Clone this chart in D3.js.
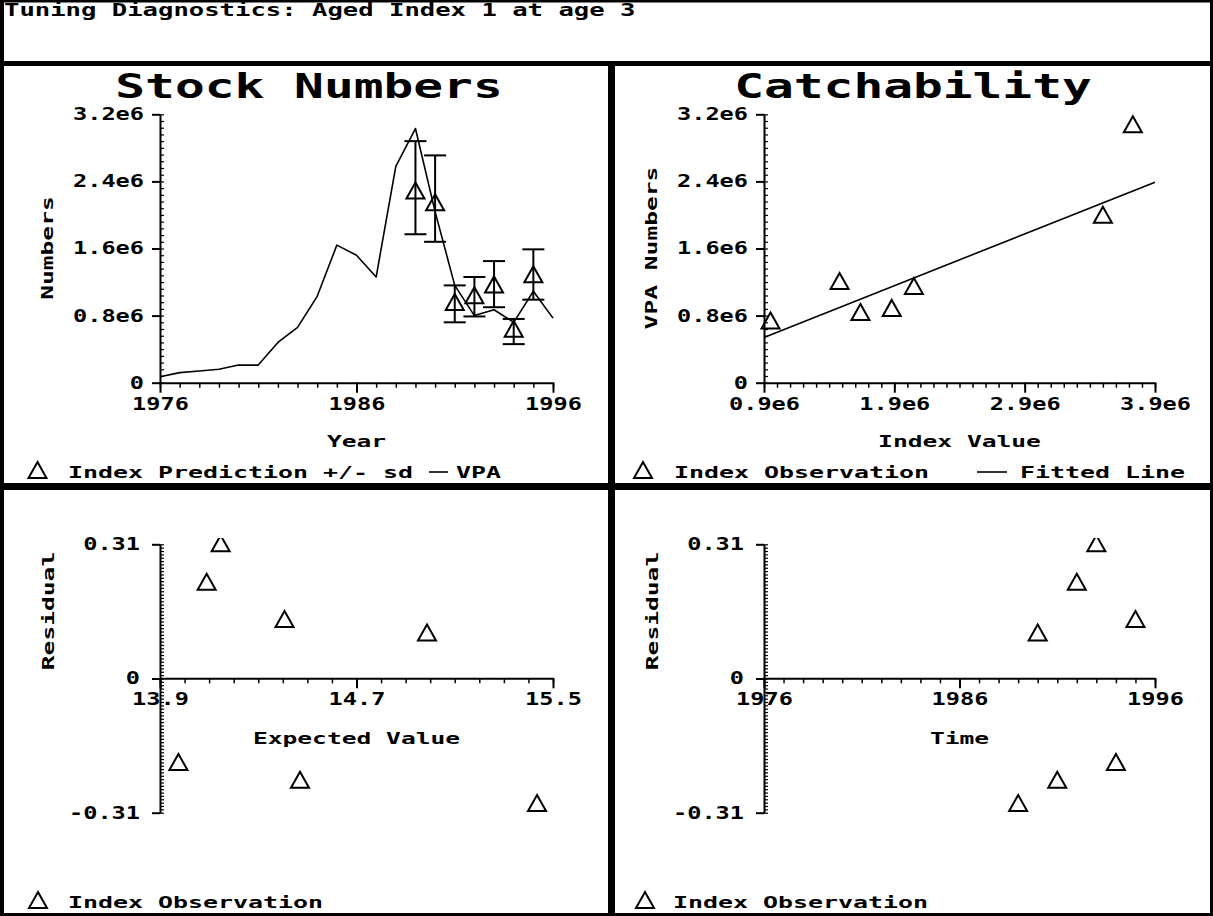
<!DOCTYPE html>
<html>
<head>
<meta charset="utf-8">
<script src="https://cdn.jsdelivr.net/npm/d3@7"></script>
<style>
  body { margin: 0; background: #fff; }
  svg text { font-family: "DejaVu Sans Mono", monospace; font-weight: bold; fill: #000; }
</style>
</head>
<body>
<div id="main"></div>
<script>
// values
const vpaYears = [1976, 1977, 1978, 1979, 1980, 1981, 1982, 1983, 1984, 1985, 1986,
                  1987, 1988, 1989, 1990, 1991, 1992, 1993, 1994, 1995, 1996];
const vpaNumbers = [0.07e6, 0.12e6, 0.14e6, 0.16e6, 0.21e6, 0.21e6, 0.48e6, 0.66e6, 1.03e6, 1.64e6, 1.52e6,
                    1.26e6, 2.58e6, 3.03e6, 2.04e6, 1.16e6, 0.80e6, 0.87e6, 0.72e6, 1.09e6, 0.77e6];

const indexYears = [1989, 1990, 1991, 1992, 1993, 1994, 1995];
const indexPrediction = [2.28e6, 2.14e6, 0.95e6, 1.03e6, 1.16e6, 0.63e6, 1.28e6];
const predictionLow = [1.77e6, 1.68e6, 0.72e6, 0.79e6, 0.90e6, 0.46e6, 0.99e6];
const predictionHigh = [2.88e6, 2.71e6, 1.16e6, 1.26e6, 1.45e6, 0.76e6, 1.59e6];

const indexValue = [0.95e6, 1.48e6, 1.64e6, 1.88e6, 2.05e6, 3.50e6, 3.73e6];
const vpaObserved = [0.73e6, 1.20e6, 0.83e6, 0.88e6, 1.14e6, 1.99e6, 3.07e6];
const fittedX = [0.9e6, 3.9e6];
const fittedY = [0.54e6, 2.39e6];

const residuals = [-0.29, 0.104, -0.236, 0.221, 0.31, -0.195, 0.135];
const expectedValue = [15.435, 14.987, 14.47, 14.09, 14.147, 13.975, 14.407];

const stockTicks = [0, 0.8e6, 1.6e6, 2.4e6, 3.2e6];
const yearTicks = [1976, 1986, 1996];
const indexTicks = [0.9e6, 1.9e6, 2.9e6, 3.9e6];
const residTicks = [-0.31, 0, 0.31];
const expectedTicks = [13.9, 14.7, 15.5];

const width = 1213;
const height = 916;

const svg = d3.select("#main")
    .append("svg")
    .attr("width", width)
    .attr("height", height);

// stretched monospace text, to get the wide plotter look
function txt(parent, str, x, y, size, adv, anchor) {
    return parent.append("text")
        .attr("x", x)
        .attr("y", y)
        .attr("text-anchor", anchor || "start")
        .style("font-size", size + "px")
        .attr("textLength", str.length * adv)
        .attr("lengthAdjust", "spacingAndGlyphs")
        .text(str);
}

function triangle(parent, x, y) {
    parent.append("path")
        .attr("d", `M${x},${y - 9}L${x + 9},${y + 7}L${x - 9},${y + 7}Z`)
        .attr("fill", "none")
        .attr("stroke", "black")
        .attr("stroke-width", 2)
        .attr("stroke-linejoin", "miter");
}

function styleLabels(sel, size, adv, fmt) {
    sel.selectAll("text")
        .style("font-size", size + "px")
        .attr("textLength", d => fmt(d).length * adv)
        .attr("lengthAdjust", "spacingAndGlyphs");
}

function yAxis(x0, y, ticks, fmt, minor, gap) {
    const g = svg.append("g").attr("transform", `translate(${x0},0)`);
    g.call(d3.axisLeft(y).tickValues(ticks).tickSize(8).tickSizeOuter(0)
        .tickPadding(gap - 8).tickFormat(fmt));
    g.select(".domain").attr("stroke-width", 2);
    g.selectAll(".tick line").attr("stroke-width", 2);
    styleLabels(g, 17, 14.2, fmt);
    const m = svg.append("g").attr("transform", `translate(${x0},0)`);
    m.call(d3.axisRight(y).tickValues(minor).tickSize(4).tickSizeOuter(0).tickFormat(""));
    m.select(".domain").remove();
    m.selectAll(".tick line").attr("stroke-width", 1.2);
}

function xAxis(y0, x, ticks, fmt, minor) {
    const g = svg.append("g").attr("transform", `translate(0,${y0})`);
    g.call(d3.axisBottom(x).tickValues(ticks).tickSize(10).tickSizeOuter(0)
        .tickPadding(5).tickFormat(fmt));
    g.select(".domain").attr("stroke-width", 2);
    g.selectAll(".tick line").attr("stroke-width", 2);
    styleLabels(g, 17, 14.2, fmt);
    const m = svg.append("g").attr("transform", `translate(0,${y0})`);
    m.call(d3.axisBottom(x).tickValues(minor).tickSize(5).tickSizeOuter(0).tickFormat(""));
    m.select(".domain").remove();
    m.selectAll(".tick line").attr("stroke-width", 1.5);
}

const fmtE6 = d => d === 0 ? "0" : (d / 1e6).toFixed(1) + "e6";
const fmtYear = d => String(d);
const fmtResid = d => d === 0 ? "0" : d.toFixed(2);
const fmtExp = d => d.toFixed(1);

// ---------- frame ----------
svg.append("rect").attr("x", 1.5).attr("y", 1).attr("width", width - 3).attr("height", height - 2.5)
    .attr("fill", "none").attr("stroke", "black").attr("stroke-width", 3);
svg.append("rect").attr("x", 0).attr("y", 0).attr("width", 4).attr("height", height).attr("fill", "black");
svg.append("rect").attr("x", 0).attr("y", 61).attr("width", width).attr("height", 5).attr("fill", "black");
svg.append("rect").attr("x", 608).attr("y", 61).attr("width", 7).attr("height", height - 61).attr("fill", "black");
svg.append("rect").attr("x", 0).attr("y", 483).attr("width", width).attr("height", 7).attr("fill", "black");

txt(svg, "Tuning Diagnostics: Aged Index 1 at age 3", 4, 16, 18, 15.4);

// ---------- Stock Numbers ----------
const xYear = d3.scaleLinear().domain([1976, 1996]).range([160, 553]);
const yStock = d3.scaleLinear().domain([0, 3.2e6]).range([382.7, 114.3]);

txt(svg, "Stock Numbers", 309, 98, 33, 29.8, "middle");
yAxis(160, yStock, stockTicks, fmtE6, d3.range(0, 3.2e6 + 1, 0.08e6), 16);
xAxis(382.7, xYear, yearTicks, fmtYear, d3.range(1976, 1997, 1));

svg.append("path")
    .datum(vpaYears.map((yr, i) => [yr, vpaNumbers[i]]))
    .attr("fill", "none")
    .attr("stroke", "black")
    .attr("stroke-width", 1.6)
    .attr("stroke-linejoin", "round")
    .attr("d", d3.line().x(d => xYear(d[0])).y(d => yStock(d[1])));

const bars = svg.append("g").attr("stroke", "black").attr("stroke-width", 2);
indexYears.forEach((yr, i) => {
    const x = xYear(yr);
    bars.append("line").attr("x1", x).attr("x2", x)
        .attr("y1", yStock(predictionLow[i])).attr("y2", yStock(predictionHigh[i]));
    [predictionLow[i], predictionHigh[i]].forEach(v => {
        bars.append("line").attr("x1", x - 11).attr("x2", x + 11)
            .attr("y1", yStock(v)).attr("y2", yStock(v));
    });
    triangle(svg, x, yStock(indexPrediction[i]));
});

txt(svg, "Numbers", 53, 248, 16, 14.8, "middle").attr("transform", "rotate(-90,53,248)");
txt(svg, "Year", 356.5, 447, 16, 14.8, "middle");

triangle(svg, 37.5, 471);
txt(svg, "Index Prediction +/- sd", 68, 478, 16, 15);
svg.append("line").attr("x1", 429).attr("x2", 448).attr("y1", 472).attr("y2", 472)
    .attr("stroke", "black").attr("stroke-width", 1.6);
txt(svg, "VPA", 456, 478, 16, 15);

// ---------- Catchability ----------
const xIndex = d3.scaleLinear().domain([0.9e6, 3.9e6]).range([764, 1155]);
const yCatch = d3.scaleLinear().domain([0, 3.2e6]).range([382.7, 114.3]);

txt(svg, "Catchability", 913, 98, 33, 29.8, "middle");
yAxis(764, yCatch, stockTicks, fmtE6, d3.range(0, 3.2e6 + 1, 0.08e6), 16);
xAxis(382.7, xIndex, indexTicks, fmtE6, d3.range(0.9e6, 3.9e6 + 1, 0.1e6));

svg.append("path")
    .datum(fittedX.map((v, i) => [v, fittedY[i]]))
    .attr("fill", "none")
    .attr("stroke", "black")
    .attr("stroke-width", 1.6)
    .attr("d", d3.line().x(d => xIndex(d[0])).y(d => yCatch(d[1])));

indexValue.forEach((v, i) => triangle(svg, xIndex(v), yCatch(vpaObserved[i])));

txt(svg, "VPA Numbers", 657, 248, 16, 14.8, "middle").attr("transform", "rotate(-90,657,248)");
txt(svg, "Index Value", 959.5, 447, 16, 14.8, "middle");

triangle(svg, 643, 471);
txt(svg, "Index Observation", 674, 478, 16, 15);
svg.append("line").attr("x1", 977).attr("x2", 1007).attr("y1", 472).attr("y2", 472)
    .attr("stroke", "black").attr("stroke-width", 1.6);
txt(svg, "Fitted Line", 1020, 478, 16, 15);

// ---------- residual panels ----------
const yResid = d3.scaleLinear().domain([-0.31, 0.31]).range([812.7, 544.3]);
const residMinor = d3.range(-0.31, 0.3101, 0.31 / 40);

svg.append("clipPath").attr("id", "clipL")
    .append("rect").attr("x", 100).attr("y", 538).attr("width", 500).attr("height", 300);
svg.append("clipPath").attr("id", "clipR")
    .append("rect").attr("x", 700).attr("y", 538).attr("width", 500).attr("height", 300);

// residual vs expected value
const xExp = d3.scaleLinear().domain([13.9, 15.5]).range([160, 553]);
yAxis(160, yResid, residTicks, fmtResid, residMinor, 20);
xAxis(678.3, xExp, expectedTicks, fmtExp, d3.range(13.9, 15.51, 0.1));

const ptsL = svg.append("g").attr("clip-path", "url(#clipL)");
expectedValue.forEach((v, i) => triangle(ptsL, xExp(v), yResid(residuals[i])));

txt(svg, "Residual", 54, 611, 16, 14.8, "middle").attr("transform", "rotate(-90,54,611)");
txt(svg, "Expected Value", 356.5, 744, 16, 14.8, "middle");

triangle(svg, 38, 901);
txt(svg, "Index Observation", 68, 908, 16, 15);

// residual vs time
const xTime = d3.scaleLinear().domain([1976, 1996]).range([764, 1155]);
yAxis(764, yResid, residTicks, fmtResid, residMinor, 20);
xAxis(678.3, xTime, yearTicks, fmtYear, d3.range(1976, 1997, 1));

const ptsR = svg.append("g").attr("clip-path", "url(#clipR)");
indexYears.forEach((yr, i) => triangle(ptsR, xTime(yr), yResid(residuals[i])));

txt(svg, "Residual", 658, 611, 16, 14.8, "middle").attr("transform", "rotate(-90,658,611)");
txt(svg, "Time", 959.5, 744, 16, 14.8, "middle");

triangle(svg, 645, 901);
txt(svg, "Index Observation", 673, 908, 16, 15);
</script>
</body>
</html>
